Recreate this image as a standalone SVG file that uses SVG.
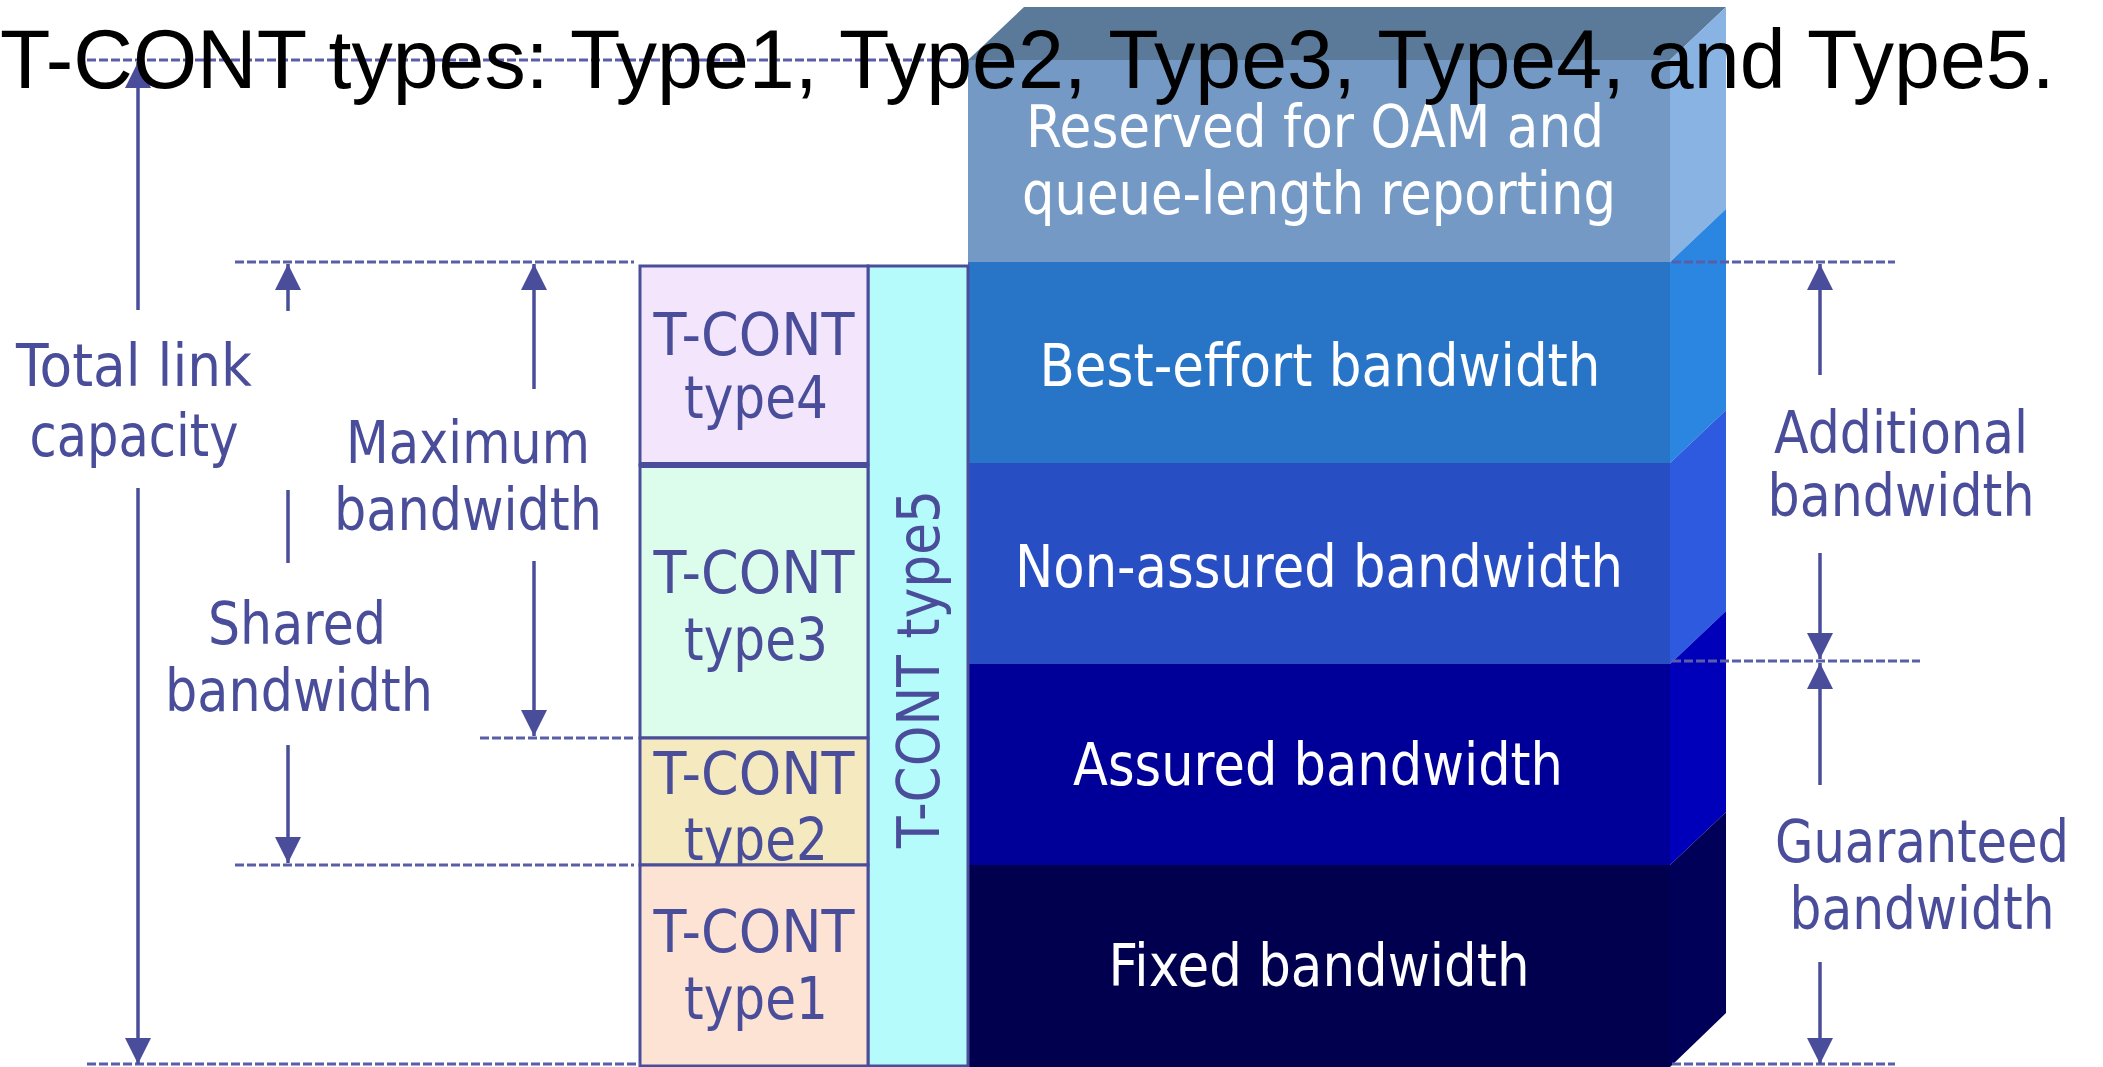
<svg xmlns="http://www.w3.org/2000/svg" width="2103" height="1067" viewBox="0 0 2103 1067">
<style>
.lbl{font-family:"DejaVu Sans","Liberation Sans",sans-serif;font-size:59px;fill:#4a4e9a;text-anchor:middle}
.wl{font-family:"DejaVu Sans","Liberation Sans",sans-serif;font-size:59px;fill:#ffffff;text-anchor:middle}
.title{font-family:"Liberation Sans",Arial,sans-serif;font-size:82.5px;fill:#000000}
.ln{stroke:#4a4e9a;stroke-width:3.5;fill:none}
.dash{stroke:#5a5ea8;stroke-width:3;stroke-dasharray:9 3;fill:none}
.box{stroke:#4a4e9a;stroke-width:3}
</style>
<defs>
<marker id="ah" viewBox="0 0 10 10" refX="10" refY="5" markerUnits="userSpaceOnUse" markerWidth="27" markerHeight="26" orient="auto">
<path d="M0,0 L10,5 L0,10 z" fill="#4a4e9a"/>
</marker>
</defs>

<g id="stack3d">
<polygon points="968,60 1024,7 1726,7 1670,60" fill="#5b7998"/>
<rect x="968" y="60" width="702" height="202" fill="#7499c5"/>
<polygon points="1670,60 1726,7 1726,209 1670,262" fill="#88b3e2"/>
<rect x="968" y="262" width="702" height="201" fill="#2874c6"/>
<polygon points="1670,262 1726,209 1726,410 1670,463" fill="#2a86e0"/>
<rect x="968" y="463" width="702" height="201" fill="#284ec4"/>
<polygon points="1670,463 1726,410 1726,611 1670,664" fill="#2e5ae0"/>
<rect x="968" y="664" width="702" height="201" fill="#000099"/>
<polygon points="1670,664 1726,611 1726,812 1670,865" fill="#0000bb"/>
<rect x="968" y="865" width="702" height="202" fill="#00004f"/>
<polygon points="1670,865 1726,812 1726,1013 1670,1067" fill="#000058"/>
</g>
<g id="reserved"><text class="wl" x="1315" y="147" textLength="578" lengthAdjust="spacingAndGlyphs">Reserved for OAM and</text><text class="wl" x="1319" y="214" textLength="594" lengthAdjust="spacingAndGlyphs">queue-length reporting</text></g>
<g id="best-effort"><text class="wl" x="1320" y="386" textLength="561" lengthAdjust="spacingAndGlyphs">Best-effort bandwidth</text></g>
<g id="non-assured"><text class="wl" x="1319" y="587" textLength="608" lengthAdjust="spacingAndGlyphs">Non-assured bandwidth</text></g>
<g id="assured"><text class="wl" x="1318" y="785" textLength="490" lengthAdjust="spacingAndGlyphs">Assured bandwidth</text></g>
<g id="fixed"><text class="wl" x="1319" y="986" textLength="421" lengthAdjust="spacingAndGlyphs">Fixed bandwidth</text></g>

<g id="type5">
<rect class="box" x="868" y="266" width="100" height="800" fill="#b5fbfb"/>
<text class="lbl" transform="translate(939,669) rotate(-90)" x="0" y="0" font-size="56" textLength="358" lengthAdjust="spacingAndGlyphs">T-CONT type5</text>
</g>
<g id="type4">
<rect class="box" x="640" y="266" width="228" height="199" fill="#f3e6fc"/>
<text class="lbl" x="754" y="355" textLength="201" lengthAdjust="spacingAndGlyphs">T-CONT</text>
<text class="lbl" x="756" y="418" textLength="144" lengthAdjust="spacingAndGlyphs">type4</text>
</g>
<g id="type3">
<rect class="box" x="640" y="465" width="228" height="273" fill="#dcfcec"/>
<text class="lbl" x="754" y="593" textLength="201" lengthAdjust="spacingAndGlyphs">T-CONT</text>
<text class="lbl" x="756" y="660" textLength="144" lengthAdjust="spacingAndGlyphs">type3</text>
</g>
<g id="type2">
<rect class="box" x="640" y="738" width="228" height="127" fill="#f5e9c0"/>
<text class="lbl" x="754" y="794" textLength="201" lengthAdjust="spacingAndGlyphs">T-CONT</text>
<text class="lbl" x="756" y="860" textLength="144" lengthAdjust="spacingAndGlyphs">type2</text>
</g>
<g id="type1">
<rect class="box" x="640" y="865" width="228" height="201" fill="#fde3d3"/>
<text class="lbl" x="754" y="952" textLength="201" lengthAdjust="spacingAndGlyphs">T-CONT</text>
<text class="lbl" x="756" y="1019" textLength="144" lengthAdjust="spacingAndGlyphs">type1</text>
</g>
<line x1="640" y1="465" x2="868" y2="465" stroke="#4a4e9a" stroke-width="6"/>

<g id="connectors">
<line class="dash" x1="87" y1="60" x2="968" y2="60"/>
<line class="dash" x1="235" y1="262" x2="634" y2="262"/>
<line class="dash" x1="1672" y1="262" x2="1895" y2="262"/>
<line class="dash" x1="480" y1="738" x2="634" y2="738"/>
<line class="dash" x1="235" y1="865" x2="634" y2="865"/>
<line class="dash" x1="1672" y1="661" x2="1920" y2="661"/>
<line class="dash" x1="87" y1="1064" x2="640" y2="1064"/>
<line class="dash" x1="1672" y1="1064" x2="1895" y2="1064"/>
<line class="ln" x1="138" y1="310" x2="138" y2="62" marker-end="url(#ah)"/>
<line class="ln" x1="138" y1="488" x2="138" y2="1064" marker-end="url(#ah)"/>
<line class="ln" x1="288" y1="311" x2="288" y2="264" marker-end="url(#ah)"/>
<line class="ln" x1="288" y1="490" x2="288" y2="563"/>
<line class="ln" x1="288" y1="745" x2="288" y2="863" marker-end="url(#ah)"/>
<line class="ln" x1="534" y1="389" x2="534" y2="264" marker-end="url(#ah)"/>
<line class="ln" x1="534" y1="561" x2="534" y2="736" marker-end="url(#ah)"/>
<line class="ln" x1="1820" y1="375" x2="1820" y2="264" marker-end="url(#ah)"/>
<line class="ln" x1="1820" y1="553" x2="1820" y2="659" marker-end="url(#ah)"/>
<line class="ln" x1="1820" y1="785" x2="1820" y2="663" marker-end="url(#ah)"/>
<line class="ln" x1="1820" y1="962" x2="1820" y2="1064" marker-end="url(#ah)"/>
</g>

<g id="total-link">
<text class="lbl" x="134" y="386" textLength="236" lengthAdjust="spacingAndGlyphs">Total link</text>
<text class="lbl" x="134" y="456" textLength="209" lengthAdjust="spacingAndGlyphs">capacity</text>
</g>
<g id="maximum">
<text class="lbl" x="468" y="463" textLength="244" lengthAdjust="spacingAndGlyphs">Maximum</text>
<text class="lbl" x="468" y="530" textLength="268" lengthAdjust="spacingAndGlyphs">bandwidth</text>
</g>
<g id="shared">
<text class="lbl" x="297" y="644" textLength="178" lengthAdjust="spacingAndGlyphs">Shared</text>
<text class="lbl" x="299" y="711" textLength="268" lengthAdjust="spacingAndGlyphs">bandwidth</text>
</g>
<g id="additional">
<text class="lbl" x="1901" y="453" textLength="254" lengthAdjust="spacingAndGlyphs">Additional</text>
<text class="lbl" x="1901" y="516" textLength="267" lengthAdjust="spacingAndGlyphs">bandwidth</text>
</g>
<g id="guaranteed">
<text class="lbl" x="1922" y="862" textLength="294" lengthAdjust="spacingAndGlyphs">Guaranteed</text>
<text class="lbl" x="1922" y="929" textLength="265" lengthAdjust="spacingAndGlyphs">bandwidth</text>
</g>

<g id="title">
<text class="title" x="0" y="88">T-CONT types: Type1, Type2, Type3, Type4, and Type5.</text>
</g>
</svg>
